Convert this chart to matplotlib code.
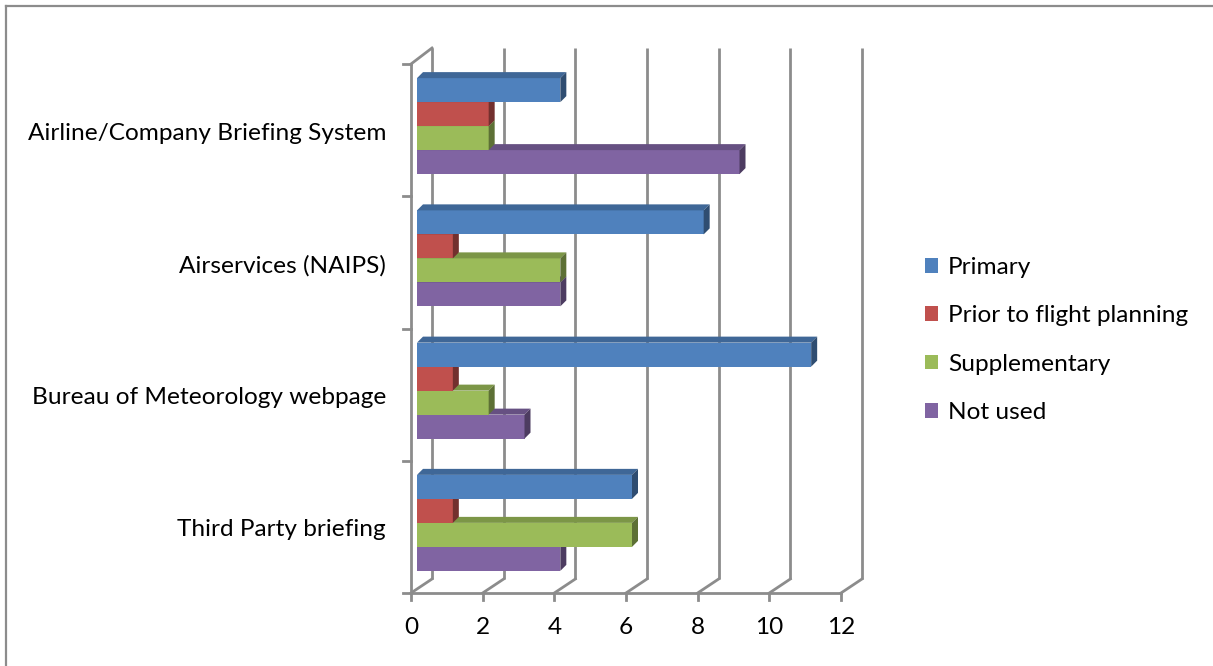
"""Horizontal 3D-style bar chart: sources of weather briefing"""

import numpy as np
import matplotlib.pyplot as plt
from matplotlib.patches import Polygon, Rectangle
from matplotlib.lines import Line2D

plt.rcParams['font.family'] = ['Lato', 'DejaVu Sans']

# data, categories listed top to bottom as in the chart
categories = ["Airline/Company Briefing System", "Airservices (NAIPS)",
              "Bureau of Meteorology webpage", "Third Party briefing"]
series_names = ["Primary", "Prior to flight planning", "Supplementary", "Not used"]
primary = [4, 8, 11, 6]
prior_to_planning = [2, 1, 1, 1]
supplementary = [2, 4, 2, 6]
not_used = [9, 4, 3, 4]
x_ticks = [0, 2, 4, 6, 8, 10, 12]

values = [primary, prior_to_planning, supplementary, not_used]
colors = ["#4F81BD", "#C0504D", "#9BBB59", "#8064A2"]

W, H = 1213, 666
fig = plt.figure(figsize=(W / 100, H / 100), dpi=100)

# front plane of the plot area in pixels
left_px, right_px, top_px, bot_px = 411, 841, 64, 593
ax = fig.add_axes([left_px / W, 1 - bot_px / H,
                   (right_px - left_px) / W, (bot_px - top_px) / H])
ax.set_xlim(0, 12)
ax.set_ylim(0, 4)
ax.axis("off")

ux = 12 / (right_px - left_px)   # data units per pixel
uy = 4 / (bot_px - top_px)

grid_col = "#8C8C8C"
lw = 2.0

# back wall offsets (perspective)
back_dx = 21 * ux
back_dy_top = 16 * uy
back_dy_bot = 14 * uy

for t in x_ticks:
    # back wall gridline
    ax.plot([t + back_dx, t + back_dx], [back_dy_bot, 4 + back_dy_top],
            color=grid_col, lw=lw, clip_on=False, solid_capstyle="butt")
    # floor slant
    ax.plot([t, t + back_dx], [0, back_dy_bot], color=grid_col, lw=lw, clip_on=False)
    # tick mark below the axis
    ax.plot([t, t], [0, -7 * uy], color=grid_col, lw=lw, clip_on=False)

# front x axis line and left wall
ax.plot([0, 12], [0, 0], color=grid_col, lw=lw, clip_on=False)
ax.plot([0, 0], [0, 4], color=grid_col, lw=lw, clip_on=False)
ax.plot([0, back_dx], [4, 4 + back_dy_top], color=grid_col, lw=lw, clip_on=False)
for b in range(5):
    ax.plot([-8 * ux, 0], [b, b], color=grid_col, lw=lw, clip_on=False)

# bars
n_cat = len(categories)
centers = np.arange(n_cat)[::-1] + 0.5
bar_h = 24 * uy
x0 = 6 * ux
y_shift = 4 * uy
dep_x = 6 * ux
dep_y = 6 * uy
offsets = [1.5, 0.5, -0.5, -1.5]


def shade(hex_col, f):
    rgb = np.array([int(hex_col[i:i + 2], 16) for i in (1, 3, 5)]) / 255
    return tuple(rgb * f)


for s in range(3, -1, -1):
    ys = centers + y_shift + offsets[s] * bar_h
    z = 3 + (3 - s) * 2
    ax.barh(ys, values[s], height=bar_h, left=x0, color=colors[s],
            edgecolor="none", zorder=z, label=series_names[s])
    for y, v in zip(ys, values[s]):
        yt = y + bar_h / 2
        yb = y - bar_h / 2
        xe = x0 + v
        top = Polygon([(x0, yt), (xe, yt), (xe + dep_x, yt + dep_y), (x0 + dep_x, yt + dep_y)],
                      closed=True, facecolor=shade(colors[s], 0.8), edgecolor="none", zorder=z)
        side = Polygon([(xe, yb), (xe, yt), (xe + dep_x, yt + dep_y), (xe + dep_x, yb + dep_y)],
                       closed=True, facecolor=shade(colors[s], 0.6), edgecolor="none", zorder=z)
        ax.add_patch(top)
        ax.add_patch(side)

fs = 17.6
for c, name in zip(centers, categories):
    ax.text(-25 * ux, c - 3 * uy, name, ha="right", va="center", fontsize=fs, color="black")
for t in x_ticks:
    ax.text(t, -34 * uy, str(t), ha="center", va="center", fontsize=fs, color="black")

# legend
leg_handles = [Rectangle((0, 0), 1, 1, facecolor=colors[s], edgecolor="none") for s in range(4)]
fig.legend(leg_handles, series_names, loc="center left",
           bbox_to_anchor=(903 / W, 1 - 340 / H), frameon=False, fontsize=fs,
           handlelength=0.55, handleheight=0.55, handletextpad=0.4, labelspacing=1.12)

# outer chart border
fig.add_artist(Line2D([6 / W, 6 / W], [0, 1 - 6 / H], color="#8C8C8C", lw=1.6))
fig.add_artist(Line2D([6 / W, 1], [1 - 6 / H, 1 - 6 / H], color="#8C8C8C", lw=1.6))

fig.savefig("out.png", dpi=100)
